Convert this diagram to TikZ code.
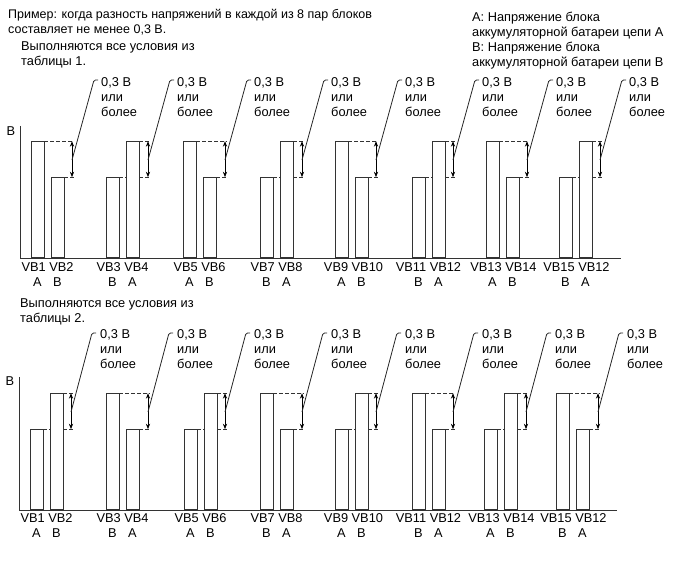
\documentclass[tikz,border=0pt]{standalone}
\usepackage{fontspec}
\setmainfont{Liberation Sans}
\usetikzlibrary{arrows.meta}
\tikzset{
    blockbar/.style = {draw=black!80, fill=white, line width=0.8pt, inner sep=0, minimum width=13, anchor=south},
    tallbar/.style = {blockbar, minimum height=116},
    lowbar/.style = {blockbar, minimum height=80},
    dashlevel/.style = {draw=black!80, line width=0.7pt, dash pattern=on 3.5pt off 2.5pt, shorten >=-1.5pt},
    diffarrow/.style = {draw=black, line width=0.7pt, {Stealth[length=5.5pt,width=4.2pt]}-{Stealth[length=5.5pt,width=4.2pt]}},
    leader/.style = {draw=black!85, line width=0.8pt, rounded corners=1.5pt},
    txt/.style = {font=\fontsize{12.8}{15}\selectfont, inner sep=0, align=left},
    remark/.style = {txt, anchor=west},
    vblabel/.style = {txt},
    axisline/.style = {draw=black!80, line width=0.8pt},
}

\begin{document}
\begin{tikzpicture}[x=1pt, y=-1pt]
    \useasboundingbox (0,0) rectangle (689,561);

    % headings
    \node[remark, font=\fontsize{12.5}{15}\selectfont] (title) at (8,22) {Пример: когда разность напряжений в каждой из 8 пар блоков\\составляет не менее 0,3 В.};
    \node[remark] (legend) at (472,41) {А: Напряжение блока\\аккумуляторной батареи цепи А\\В: Напряжение блока\\аккумуляторной батареи цепи В};
    \node[remark] (cond1) at (21,55) {Выполняются все условия из\\таблицы 1.};
    \node[remark] (cond2) at (20,312) {Выполняются все условия из\\таблицы 2.};

    % ---------------- table 1 ----------------
    \coordinate (topy) at (20,126);
    \coordinate (topo) at (20,258);
    \coordinate (topx) at (621,258);
    \node[txt] (topv) at (11,131) {В};
    \draw[axisline] (topy) -- (topo) -- (topx);

    % VB1 VB2
    \node[tallbar] (top1l) at (37.5,258) {};
    \node[lowbar] (top1r) at (57.5,258) {};
    \node[vblabel] (top1v) at (47.5,267) {VB1 VB2};
    \node[vblabel] (top1a) at (37.5,282) {A};
    \node[vblabel] (top1b) at (57.5,282) {B};
    \coordinate (top1m) at (72,160);
    \coordinate (top1k) at (94,80);
    \node[remark] (top1n) at (101,97) {0,3 В\\или\\более};
    \draw[dashlevel] (top1l.north east) -- (top1l.north east -| top1m);
    \draw[dashlevel] (top1r.north east) -- (top1r.north east -| top1m);
    \draw[diffarrow] (top1l.north -| top1m) -- (top1r.north -| top1m);
    \draw[leader] (top1m) -- (top1k) -- ++(4,0);

    % VB3 VB4
    \node[lowbar] (top2l) at (112.5,258) {};
    \node[tallbar] (top2r) at (132.5,258) {};
    \node[vblabel] (top2v) at (122.5,267) {VB3 VB4};
    \node[vblabel] (top2a) at (112.5,282) {B};
    \node[vblabel] (top2b) at (132.5,282) {A};
    \coordinate (top2m) at (148,160);
    \coordinate (top2k) at (170,80);
    \node[remark] (top2n) at (177,97) {0,3 В\\или\\более};
    \draw[dashlevel] (top2l.north east) -- (top2l.north east -| top2r.west);
    \draw[dashlevel] (top2l.north east -| top2r.east) -- (top2l.north east -| top2m);
    \draw[dashlevel] (top2r.north east) -- (top2r.north east -| top2m);
    \draw[diffarrow] (top2r.north -| top2m) -- (top2l.north -| top2m);
    \draw[leader] (top2m) -- (top2k) -- ++(4,0);

    % VB5 VB6
    \node[tallbar] (top3l) at (189.5,258) {};
    \node[lowbar] (top3r) at (209.5,258) {};
    \node[vblabel] (top3v) at (199.5,267) {VB5 VB6};
    \node[vblabel] (top3a) at (189.5,282) {A};
    \node[vblabel] (top3b) at (209.5,282) {B};
    \coordinate (top3m) at (225,160);
    \coordinate (top3k) at (247,80);
    \node[remark] (top3n) at (254,97) {0,3 В\\или\\более};
    \draw[dashlevel] (top3l.north east) -- (top3l.north east -| top3m);
    \draw[dashlevel] (top3r.north east) -- (top3r.north east -| top3m);
    \draw[diffarrow] (top3l.north -| top3m) -- (top3r.north -| top3m);
    \draw[leader] (top3m) -- (top3k) -- ++(4,0);

    % VB7 VB8
    \node[lowbar] (top4l) at (266.5,258) {};
    \node[tallbar] (top4r) at (286.5,258) {};
    \node[vblabel] (top4v) at (276.5,267) {VB7 VB8};
    \node[vblabel] (top4a) at (266.5,282) {B};
    \node[vblabel] (top4b) at (286.5,282) {A};
    \coordinate (top4m) at (302,160);
    \coordinate (top4k) at (324,80);
    \node[remark] (top4n) at (331,97) {0,3 В\\или\\более};
    \draw[dashlevel] (top4l.north east) -- (top4l.north east -| top4r.west);
    \draw[dashlevel] (top4l.north east -| top4r.east) -- (top4l.north east -| top4m);
    \draw[dashlevel] (top4r.north east) -- (top4r.north east -| top4m);
    \draw[diffarrow] (top4r.north -| top4m) -- (top4l.north -| top4m);
    \draw[leader] (top4m) -- (top4k) -- ++(4,0);

    % VB9 VB10
    \node[tallbar] (top5l) at (341.5,258) {};
    \node[lowbar] (top5r) at (361.5,258) {};
    \node[vblabel] (top5v) at (353.5,267) {VB9 VB10};
    \node[vblabel] (top5a) at (341.5,282) {A};
    \node[vblabel] (top5b) at (361.5,282) {B};
    \coordinate (top5m) at (376,160);
    \coordinate (top5k) at (398,80);
    \node[remark] (top5n) at (405,97) {0,3 В\\или\\более};
    \draw[dashlevel] (top5l.north east) -- (top5l.north east -| top5m);
    \draw[dashlevel] (top5r.north east) -- (top5r.north east -| top5m);
    \draw[diffarrow] (top5l.north -| top5m) -- (top5r.north -| top5m);
    \draw[leader] (top5m) -- (top5k) -- ++(4,0);

    % VB11 VB12
    \node[lowbar] (top6l) at (418.5,258) {};
    \node[tallbar] (top6r) at (438.5,258) {};
    \node[vblabel] (top6v) at (428.5,267) {VB11 VB12};
    \node[vblabel] (top6a) at (418.5,282) {B};
    \node[vblabel] (top6b) at (438.5,282) {A};
    \coordinate (top6m) at (453,160);
    \coordinate (top6k) at (475,80);
    \node[remark] (top6n) at (482,97) {0,3 В\\или\\более};
    \draw[dashlevel] (top6l.north east) -- (top6l.north east -| top6r.west);
    \draw[dashlevel] (top6l.north east -| top6r.east) -- (top6l.north east -| top6m);
    \draw[dashlevel] (top6r.north east) -- (top6r.north east -| top6m);
    \draw[diffarrow] (top6r.north -| top6m) -- (top6l.north -| top6m);
    \draw[leader] (top6m) -- (top6k) -- ++(4,0);

    % VB13 VB14
    \node[tallbar] (top7l) at (492.5,258) {};
    \node[lowbar] (top7r) at (512.5,258) {};
    \node[vblabel] (top7v) at (503.5,267) {VB13 VB14};
    \node[vblabel] (top7a) at (492.5,282) {A};
    \node[vblabel] (top7b) at (512.5,282) {B};
    \coordinate (top7m) at (527,160);
    \coordinate (top7k) at (549,80);
    \node[remark] (top7n) at (556,97) {0,3 В\\или\\более};
    \draw[dashlevel] (top7l.north east) -- (top7l.north east -| top7m);
    \draw[dashlevel] (top7r.north east) -- (top7r.north east -| top7m);
    \draw[diffarrow] (top7l.north -| top7m) -- (top7r.north -| top7m);
    \draw[leader] (top7m) -- (top7k) -- ++(4,0);

    % VB15 VB12
    \node[lowbar] (top8l) at (565.5,258) {};
    \node[tallbar] (top8r) at (585.5,258) {};
    \node[vblabel] (top8v) at (576.5,267) {VB15 VB12};
    \node[vblabel] (top8a) at (565.5,282) {B};
    \node[vblabel] (top8b) at (585.5,282) {A};
    \coordinate (top8m) at (600,160);
    \coordinate (top8k) at (622,80);
    \node[remark] (top8n) at (629,97) {0,3 В\\или\\более};
    \draw[dashlevel] (top8l.north east) -- (top8l.north east -| top8r.west);
    \draw[dashlevel] (top8l.north east -| top8r.east) -- (top8l.north east -| top8m);
    \draw[dashlevel] (top8r.north east) -- (top8r.north east -| top8m);
    \draw[diffarrow] (top8r.north -| top8m) -- (top8l.north -| top8m);
    \draw[leader] (top8m) -- (top8k) -- ++(4,0);

    % ---------------- table 2 ----------------
    \coordinate (boty) at (19,377);
    \coordinate (boto) at (19,510);
    \coordinate (botx) at (617,510);
    \node[txt] (botv) at (10,381) {В};
    \draw[axisline] (boty) -- (boto) -- (botx);

    % VB1 VB2
    \node[lowbar] (bot1l) at (36.5,510) {};
    \node[tallbar] (bot1r) at (56.5,510) {};
    \node[vblabel] (bot1v) at (46.5,518) {VB1 VB2};
    \node[vblabel] (bot1a) at (36.5,533) {A};
    \node[vblabel] (bot1b) at (56.5,533) {B};
    \coordinate (bot1m) at (71,412);
    \coordinate (bot1k) at (92,333);
    \node[remark] (bot1n) at (100,349) {0,3 В\\или\\более};
    \draw[dashlevel] (bot1l.north east) -- (bot1l.north east -| bot1r.west);
    \draw[dashlevel] (bot1l.north east -| bot1r.east) -- (bot1l.north east -| bot1m);
    \draw[dashlevel] (bot1r.north east) -- (bot1r.north east -| bot1m);
    \draw[diffarrow] (bot1r.north -| bot1m) -- (bot1l.north -| bot1m);
    \draw[leader] (bot1m) -- (bot1k) -- ++(4,0);

    % VB3 VB4
    \node[tallbar] (bot2l) at (112.5,510) {};
    \node[lowbar] (bot2r) at (132.5,510) {};
    \node[vblabel] (bot2v) at (122.5,518) {VB3 VB4};
    \node[vblabel] (bot2a) at (112.5,533) {B};
    \node[vblabel] (bot2b) at (132.5,533) {A};
    \coordinate (bot2m) at (148,412);
    \coordinate (bot2k) at (169,333);
    \node[remark] (bot2n) at (177,349) {0,3 В\\или\\более};
    \draw[dashlevel] (bot2l.north east) -- (bot2l.north east -| bot2m);
    \draw[dashlevel] (bot2r.north east) -- (bot2r.north east -| bot2m);
    \draw[diffarrow] (bot2l.north -| bot2m) -- (bot2r.north -| bot2m);
    \draw[leader] (bot2m) -- (bot2k) -- ++(4,0);

    % VB5 VB6
    \node[lowbar] (bot3l) at (190.5,510) {};
    \node[tallbar] (bot3r) at (210.5,510) {};
    \node[vblabel] (bot3v) at (200.5,518) {VB5 VB6};
    \node[vblabel] (bot3a) at (190.5,533) {A};
    \node[vblabel] (bot3b) at (210.5,533) {B};
    \coordinate (bot3m) at (225,412);
    \coordinate (bot3k) at (246,333);
    \node[remark] (bot3n) at (254,349) {0,3 В\\или\\более};
    \draw[dashlevel] (bot3l.north east) -- (bot3l.north east -| bot3r.west);
    \draw[dashlevel] (bot3l.north east -| bot3r.east) -- (bot3l.north east -| bot3m);
    \draw[dashlevel] (bot3r.north east) -- (bot3r.north east -| bot3m);
    \draw[diffarrow] (bot3r.north -| bot3m) -- (bot3l.north -| bot3m);
    \draw[leader] (bot3m) -- (bot3k) -- ++(4,0);

    % VB7 VB8
    \node[tallbar] (bot4l) at (266.5,510) {};
    \node[lowbar] (bot4r) at (286.5,510) {};
    \node[vblabel] (bot4v) at (276.5,518) {VB7 VB8};
    \node[vblabel] (bot4a) at (266.5,533) {B};
    \node[vblabel] (bot4b) at (286.5,533) {A};
    \coordinate (bot4m) at (302,412);
    \coordinate (bot4k) at (323,333);
    \node[remark] (bot4n) at (331,349) {0,3 В\\или\\более};
    \draw[dashlevel] (bot4l.north east) -- (bot4l.north east -| bot4m);
    \draw[dashlevel] (bot4r.north east) -- (bot4r.north east -| bot4m);
    \draw[diffarrow] (bot4l.north -| bot4m) -- (bot4r.north -| bot4m);
    \draw[leader] (bot4m) -- (bot4k) -- ++(4,0);

    % VB9 VB10
    \node[lowbar] (bot5l) at (341.5,510) {};
    \node[tallbar] (bot5r) at (361.5,510) {};
    \node[vblabel] (bot5v) at (353.5,518) {VB9 VB10};
    \node[vblabel] (bot5a) at (341.5,533) {A};
    \node[vblabel] (bot5b) at (361.5,533) {B};
    \coordinate (bot5m) at (376,412);
    \coordinate (bot5k) at (397,333);
    \node[remark] (bot5n) at (405,349) {0,3 В\\или\\более};
    \draw[dashlevel] (bot5l.north east) -- (bot5l.north east -| bot5r.west);
    \draw[dashlevel] (bot5l.north east -| bot5r.east) -- (bot5l.north east -| bot5m);
    \draw[dashlevel] (bot5r.north east) -- (bot5r.north east -| bot5m);
    \draw[diffarrow] (bot5r.north -| bot5m) -- (bot5l.north -| bot5m);
    \draw[leader] (bot5m) -- (bot5k) -- ++(4,0);

    % VB11 VB12
    \node[tallbar] (bot6l) at (418.5,510) {};
    \node[lowbar] (bot6r) at (438.5,510) {};
    \node[vblabel] (bot6v) at (428.5,518) {VB11 VB12};
    \node[vblabel] (bot6a) at (418.5,533) {B};
    \node[vblabel] (bot6b) at (438.5,533) {A};
    \coordinate (bot6m) at (453,412);
    \coordinate (bot6k) at (474,333);
    \node[remark] (bot6n) at (482,349) {0,3 В\\или\\более};
    \draw[dashlevel] (bot6l.north east) -- (bot6l.north east -| bot6m);
    \draw[dashlevel] (bot6r.north east) -- (bot6r.north east -| bot6m);
    \draw[diffarrow] (bot6l.north -| bot6m) -- (bot6r.north -| bot6m);
    \draw[leader] (bot6m) -- (bot6k) -- ++(4,0);

    % VB13 VB14
    \node[lowbar] (bot7l) at (490.5,510) {};
    \node[tallbar] (bot7r) at (510.5,510) {};
    \node[vblabel] (bot7v) at (501.5,518) {VB13 VB14};
    \node[vblabel] (bot7a) at (490.5,533) {A};
    \node[vblabel] (bot7b) at (510.5,533) {B};
    \coordinate (bot7m) at (526,412);
    \coordinate (bot7k) at (547,333);
    \node[remark] (bot7n) at (555,349) {0,3 В\\или\\более};
    \draw[dashlevel] (bot7l.north east) -- (bot7l.north east -| bot7r.west);
    \draw[dashlevel] (bot7l.north east -| bot7r.east) -- (bot7l.north east -| bot7m);
    \draw[dashlevel] (bot7r.north east) -- (bot7r.north east -| bot7m);
    \draw[diffarrow] (bot7r.north -| bot7m) -- (bot7l.north -| bot7m);
    \draw[leader] (bot7m) -- (bot7k) -- ++(4,0);

    % VB15 VB12
    \node[tallbar] (bot8l) at (562.5,510) {};
    \node[lowbar] (bot8r) at (582.5,510) {};
    \node[vblabel] (bot8v) at (573.5,518) {VB15 VB12};
    \node[vblabel] (bot8a) at (562.5,533) {B};
    \node[vblabel] (bot8b) at (582.5,533) {A};
    \coordinate (bot8m) at (598,412);
    \coordinate (bot8k) at (619,333);
    \node[remark] (bot8n) at (627,349) {0,3 В\\или\\более};
    \draw[dashlevel] (bot8l.north east) -- (bot8l.north east -| bot8m);
    \draw[dashlevel] (bot8r.north east) -- (bot8r.north east -| bot8m);
    \draw[diffarrow] (bot8l.north -| bot8m) -- (bot8r.north -| bot8m);
    \draw[leader] (bot8m) -- (bot8k) -- ++(4,0);
\end{tikzpicture}
\end{document}
